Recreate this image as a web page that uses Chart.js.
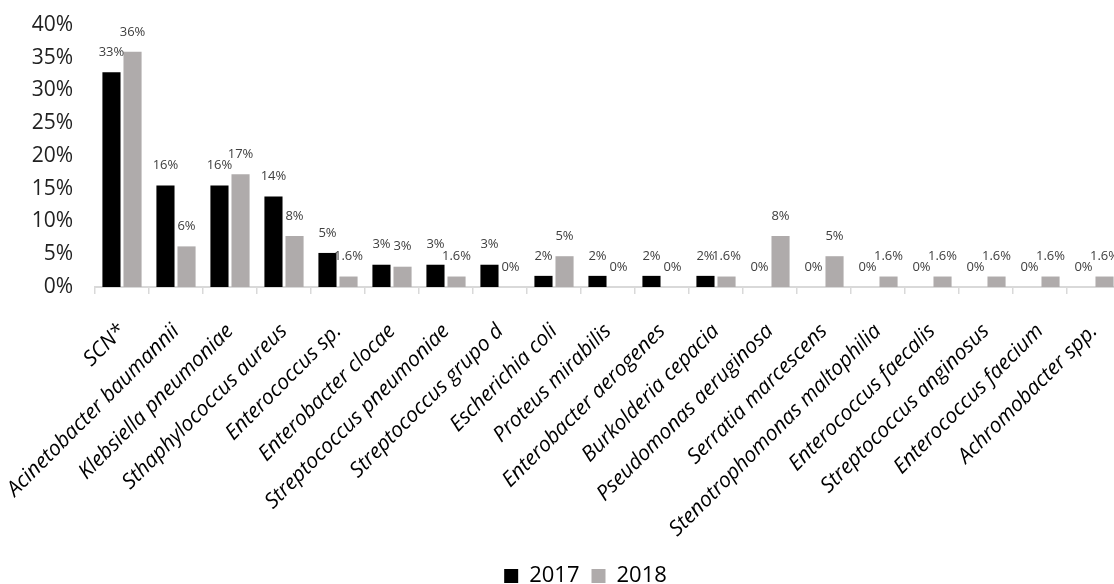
<!DOCTYPE html>
<html>
<head>
<meta charset="utf-8">
<script src="https://cdn.jsdelivr.net/npm/chart.js@4.4.1/dist/chart.umd.min.js"></script>
<style>
  html, body { margin: 0; padding: 0; background: #fff; overflow: hidden; }
  #wrap { width: 1121px; height: 584px; position: relative; }
</style>
</head>
<body>
<div id="wrap"><canvas id="chart"></canvas></div>
<script>
// ── Data ──────────────────────────────────────────────────
const categories = [
  "SCN*", "Acinetobacter baumannii", "Klebsiella pneumoniae", "Sthaphylococcus aureus",
  "Enterococcus sp.", "Enterobacter clocae", "Streptococcus pneumoniae", "Streptococcus grupo d",
  "Escherichia coli", "Proteus mirabilis", "Enterobacter aerogenes", "Burkolderia cepacia",
  "Pseudomonas aeruginosa", "Serratia marcescens", "Stenotrophomonas maltophilia",
  "Enterococcus faecalis", "Streptococcus anginosus", "Enterococcus faecium", "Achromobacter spp."
];
const values2017 = [32.8, 15.5, 15.5, 13.8, 5.2, 3.4, 3.4, 3.4, 1.7, 1.7, 1.7, 1.7, 0, 0, 0, 0, 0, 0, 0];
const values2018 = [35.9, 6.2, 17.2, 7.8, 1.6, 3.1, 1.6, 0, 4.7, 0, 0, 1.6, 7.8, 4.7, 1.6, 1.6, 1.6, 1.6, 1.6];
const labels2017 = ["33%", "16%", "16%", "14%", "5%", "3%", "3%", "3%", "2%", "2%", "2%", "2%", "0%", "0%", "0%", "0%", "0%", "0%", "0%"];
const labels2018 = ["36%", "6%", "17%", "8%", "1.6%", "3%", "1.6%", "0%", "5%", "0%", "0%", "1.6%", "8%", "5%", "1.6%", "1.6%", "1.6%", "1.6%", "1.6%"];
const yTicks = [0, 5, 10, 15, 20, 25, 30, 35, 40];

const FONT = "'Open Sans', sans-serif";
const PLOT_BOTTOM = 287;
const LEGEND_PAD = 12;

// ── Value labels above bars ───────────────────────────────
const barLabels = {
  id: "barLabels",
  afterDatasetsDraw(chart) {
    const ctx = chart.ctx;
    ctx.save();
    ctx.font = `13px ${FONT}`;
    ctx.fillStyle = "#404040";
    ctx.textAlign = "center";
    ctx.textBaseline = "middle";
    [labels2017, labels2018].forEach((texts, di) => {
      chart.getDatasetMeta(di).data.forEach((bar, i) => {
        ctx.fillText(texts[i], bar.x, bar.y - 20);
      });
    });
    ctx.restore();
  },
};

// legend sits a little right of centre and close to the bottom edge in the original
const legendShift = {
  id: "legendShift",
  afterLayout(chart) {
    const lg = chart.legend;
    const h = lg.bottom - lg.top;
    lg.left += 50;
    lg.top = 576 - LEGEND_PAD - 11;
    lg.bottom = lg.top + h;
  },
};

new Chart(document.getElementById("chart"), {
  type: "bar",
  data: {
    labels: categories,
    datasets: [
      { label: "2017", data: values2017, backgroundColor: "#000000" },
      { label: "2018", data: values2018, backgroundColor: "#AFABAB" },
    ],
  },
  options: {
    responsive: true,
    maintainAspectRatio: false,
    animation: false,
    categoryPercentage: 0.78,
    barPercentage: 0.86,
    layout: { padding: { top: 25, left: 0, right: 0, bottom: 0 } },
    plugins: {
      tooltip: { enabled: false },
      legend: {
        position: "bottom",
        labels: {
          boxWidth: 14,
          boxHeight: 14,
          padding: LEGEND_PAD,
          color: "#000",
          font: { family: FONT, size: 22, lineHeight: 1 },
        },
      },
    },
    scales: {
      x: {
        offset: true,
        grid: { display: true, drawOnChartArea: false, tickLength: 7, color: "#d9d9d9", lineWidth: 1.5, offset: true },
        border: { display: true, color: "#d9d9d9", width: 2 },
        ticks: {
          autoSkip: false,
          maxRotation: 45,
          minRotation: 45,
          padding: 25,
          color: "#000",
          font: { family: FONT, style: "italic", size: 21 },
        },
        afterFit(scale) {
          scale.paddingLeft = 0;
          scale.paddingRight = 0;
          scale.height = scale.chart.height - PLOT_BOTTOM - scale.chart.legend.height;
        },
      },
      y: {
        min: 0,
        max: 40,
        afterBuildTicks(scale) {
          scale.ticks = yTicks.map((v) => ({ value: v }));
        },
        ticks: {
          callback: (v) => v + "%",
          color: "#222",
          padding: 22,
          font: { family: FONT, size: 21 },
        },
        grid: { display: false, drawTicks: false },
        border: { display: false },
        afterFit(scale) {
          scale.width = 95;
          scale.paddingTop = 0;
          scale.paddingBottom = 0;
        },
      },
    },
  },
  plugins: [barLabels, legendShift],
});
</script>
</body>
</html>
